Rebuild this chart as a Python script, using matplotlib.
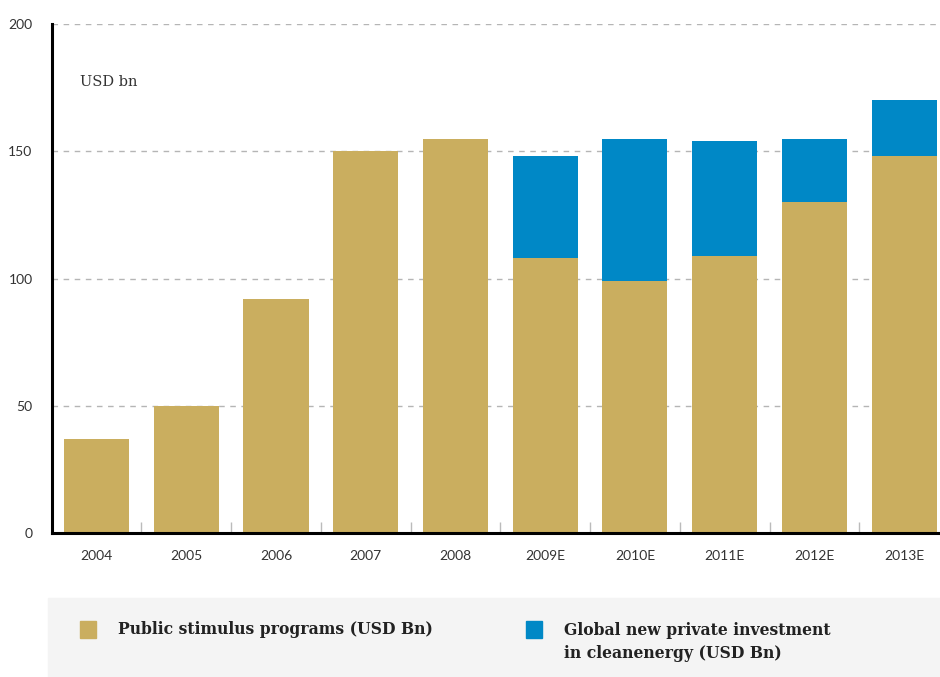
import matplotlib
matplotlib.use("Agg")
import matplotlib.pyplot as plt
from matplotlib.patches import Rectangle

# data
years = ["2004", "2005", "2006", "2007", "2008", "2009E", "2010E", "2011E", "2012E", "2013E"]
public = [37, 50, 92, 150, 155, 108, 99, 109, 130, 148]
private = [0, 0, 0, 0, 0, 40, 56, 45, 25, 22]
yticks = [0, 50, 100, 150, 200]

GOLD = "#CAAE5F"
BLUE = "#0088C6"
SERIF = "DejaVu Serif"
SANS = "Lato"

fig = plt.figure(figsize=(9.4, 6.77), dpi=100)
ax = fig.add_axes([52 / 940, 144 / 677, 888 / 940, 509 / 677])

x = list(range(len(years)))
ax.bar(x, public, width=0.725, color=GOLD, zorder=2)
ax.bar(x, private, width=0.725, bottom=public, color=BLUE, zorder=2)

ax.set_xlim(-0.496, 9.40)
ax.set_ylim(0, 200)
ax.set_yticks(yticks)
ax.set_yticklabels([str(v) for v in yticks], fontsize=10, family=SANS, color="#333333")
ax.set_xticks(x)
ax.set_xticklabels(years, fontsize=10, family=SANS, color="#333333")
ax.tick_params(axis="y", length=0, pad=14)
ax.tick_params(axis="x", which="major", length=0, pad=12)
ax.set_xticks([i + 0.5 for i in range(len(years) - 1)], minor=True)
ax.tick_params(axis="x", which="minor", direction="in", length=8, width=1, color="#bbbbbb")

for v in yticks[1:]:
    ax.axhline(v, color="#b5b5b5", lw=1, ls=(0, (4, 4)), zorder=1)

for s in ["top", "right"]:
    ax.spines[s].set_visible(False)
ax.spines["left"].set_linewidth(2.2)
ax.spines["bottom"].set_linewidth(2.2)
ax.spines["left"].set_zorder(3)
ax.spines["bottom"].set_zorder(3)

ax.text(0.0315, 0.886, "USD bn", transform=ax.transAxes, fontsize=10.5,
        family=SERIF, color="#333333", va="center", ha="left")

# legend panel
fig.patches.append(Rectangle((48 / 940, 0), 892 / 940, 79 / 677,
                             transform=fig.transFigure, color="#f4f4f4", zorder=0))
fig.patches.append(Rectangle((80 / 940, (677 - 638) / 677), 16 / 940, 17 / 677,
                             transform=fig.transFigure, color=GOLD, zorder=1))
fig.patches.append(Rectangle((526 / 940, (677 - 638) / 677), 16 / 940, 17 / 677,
                             transform=fig.transFigure, color=BLUE, zorder=1))
fig.text(118 / 940, (677 - 630) / 677, "Public stimulus programs (USD Bn)",
         fontsize=12.5, weight="bold", family=SERIF, stretch="condensed",
         color="#222222", va="center", ha="left")
fig.text(564 / 940, (677 - 642) / 677, "Global new private investment\nin cleanenergy (USD Bn)",
         fontsize=12.5, weight="bold", family=SERIF, stretch="condensed",
         color="#222222", va="center", ha="left", linespacing=1.45)

fig.savefig("out.png", dpi=100, facecolor="white")
